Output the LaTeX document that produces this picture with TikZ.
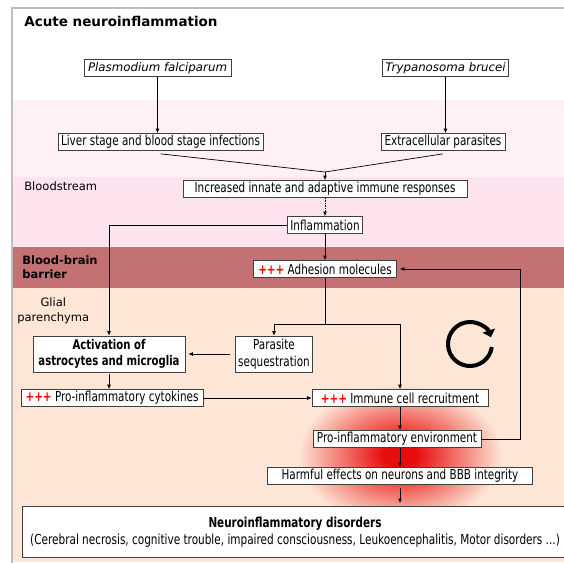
\documentclass[tikz,border=0pt]{standalone}
\usepackage{fontspec}
\setmainfont{DejaVu Sans}
\newfontfamily\boxfont{DejaVu Sans}[FakeStretch=0.76]
\usetikzlibrary{positioning, arrows.meta, calc}

\definecolor{paleband}{RGB}{254,240,245}
\definecolor{bloodband}{RGB}{253,227,238}
\definecolor{bbbband}{RGB}{196,113,116}
\definecolor{glialband}{RGB}{253,230,214}
\definecolor{glowred}{RGB}{232,12,12}
\definecolor{framegray}{RGB}{190,190,190}

\pgfdeclareradialshading{redglow}{\pgfpoint{0bp}{0bp}}{color(0bp)=(glowred); color(4bp)=(glowred); color(25bp)=(glialband); color(50bp)=(glialband)}

\newcommand{\redplus}{{\color{red}\bfseries +++}\ }

\begin{document}
\begin{tikzpicture}[x=1pt, y=-1pt, >={Latex[length=4.5pt,width=4pt]}, line width=0.7pt,
  box/.style={draw=black!75, fill=white, inner xsep=3pt, inner ysep=1pt, minimum height=17pt, font=\boxfont\fontsize{13.7}{16.5}\selectfont},
  zonelabel/.style={anchor=west, inner sep=0pt, font=\fontsize{11.5}{14.5}\selectfont}]

	% bands of the picture
	\clip (0,0) rectangle (564,562);
	\fill[white] (0,0) rectangle (564,562);
	\fill[paleband] (12,100) rectangle (564,177);
	\fill[bloodband] (12,177) rectangle (564,247);
	\fill[bbbband] (12,247) rectangle (564,288);
	\fill[glialband] (12,288) rectangle (564,562);
	\draw[framegray, line width=1.5pt] (12,580) -- (12,8) -- (580,8);
	\shade[shading=redglow] (400,455) ellipse [x radius=102pt, y radius=70pt];

	\node[anchor=west, inner sep=0pt, font=\bfseries\fontsize{13.5}{16}\selectfont] (title) at (24,21) {Acute neuroinflammation};
	\node[zonelabel] (bloodlbl) at (24,186) {Bloodstream};
	\node[zonelabel, font=\bfseries\fontsize{11.5}{14.5}\selectfont, align=left] (bbblbl) at (22,267) {Blood-brain\\barrier};
	\node[zonelabel, align=center] (glialbl) at (17,311) {Glial\\parenchyma};

	\node[box, font=\itshape\fontsize{11.8}{14}\selectfont, minimum width=147pt] (plasmo) at (157.5,68) {Plasmodium falciparum};
	\node[box, font=\itshape\fontsize{11.8}{14}\selectfont, minimum width=125pt] (tryp) at (445.5,68) {Trypanosoma brucei};
	\node[box, minimum width=205pt] (liver) at (160.5,142) {Liver stage and blood stage infections};
	\node[box, minimum width=124pt] (extra) at (443,142) {Extracellular parasites};
	\coordinate (merge) at (325,172);
	\node[box, minimum width=284pt] (immresp) at (325,189) {Increased innate and adaptive immune responses};
	\node[box] (inflam) at (325,225) {Inflammation};
	\node[box, minimum width=143pt] (adhes) at (325,269) {\redplus Adhesion molecules};
	\coordinate (split) at (325,324);
	\node[box, minimum width=152pt, minimum height=36pt, align=center, font=\boxfont\bfseries\fontsize{13.3}{16.5}\selectfont] (activ) at (109,354) {Activation of\\astrocytes and microglia};
	\node[box, minimum width=76pt, minimum height=36pt, align=center] (seques) at (274,354) {Parasite\\sequestration};
	\node[box, minimum width=182pt] (cyto) at (112,398) {\redplus Pro-inflammatory cytokines};
	\node[box, minimum width=176pt] (recruit) at (400,398) {\redplus Immune cell recruitment};
	\node[box, minimum width=168pt] (environ) at (397,439) {Pro-inflammatory environment};
	\node[box, minimum width=265pt] (harm) at (400,476) {Harmful effects on neurons and BBB integrity};
	\node[box, minimum width=546pt, minimum height=51pt, align=center] (disord) at (295,532) {{\bfseries Neuroinflammatory disorders}\\{\fontsize{13.8}{16.5}\selectfont (Cerebral necrosis, cognitive trouble, impaired consciousness, Leukoencephalitis, Motor disorders ...)}};

	\draw[->] (plasmo) -- (plasmo |- liver.north);
	\draw[->] (tryp) -- (tryp |- extra.north);
	\draw ([yshift=-3pt]liver.south) -- (merge) -- ([yshift=-3pt]extra.south);
	\draw[->] (merge) -- (immresp.north);
	\draw[->, densely dotted] (immresp) -- (inflam);
	\draw[->] (inflam) -- (adhes);
	\draw[->] (inflam.west) -| (activ.north);
	\draw (adhes) -- (split);
	\draw[->] (split) -| (seques.north);
	\draw[->] (split) -| (recruit.north);
	\draw[->, shorten <=5pt, shorten >=3pt] (seques) -- (activ);
	\draw[->, shorten <=2pt] (activ.south) -- (activ.south |- cyto.north);
	\draw[->] (cyto) -- (recruit);
	\draw[->] (recruit) -- (recruit |- environ.north);
	\draw[->, shorten >=3pt] (environ.east) -- ++(39,0) |- (adhes.east);
	\draw[->] (recruit |- environ.south) -- (recruit |- harm.north);
	\draw[->, shorten <=3pt, shorten >=3pt] (harm) -- (harm |- disord.north);

	% cycle sign
	\draw[line width=4pt, -{Triangle[length=7pt, width=13pt]}] (470,344) ++(-8:22pt) arc[start angle=-8, end angle=-342, radius=22pt];
\end{tikzpicture}
\end{document}
